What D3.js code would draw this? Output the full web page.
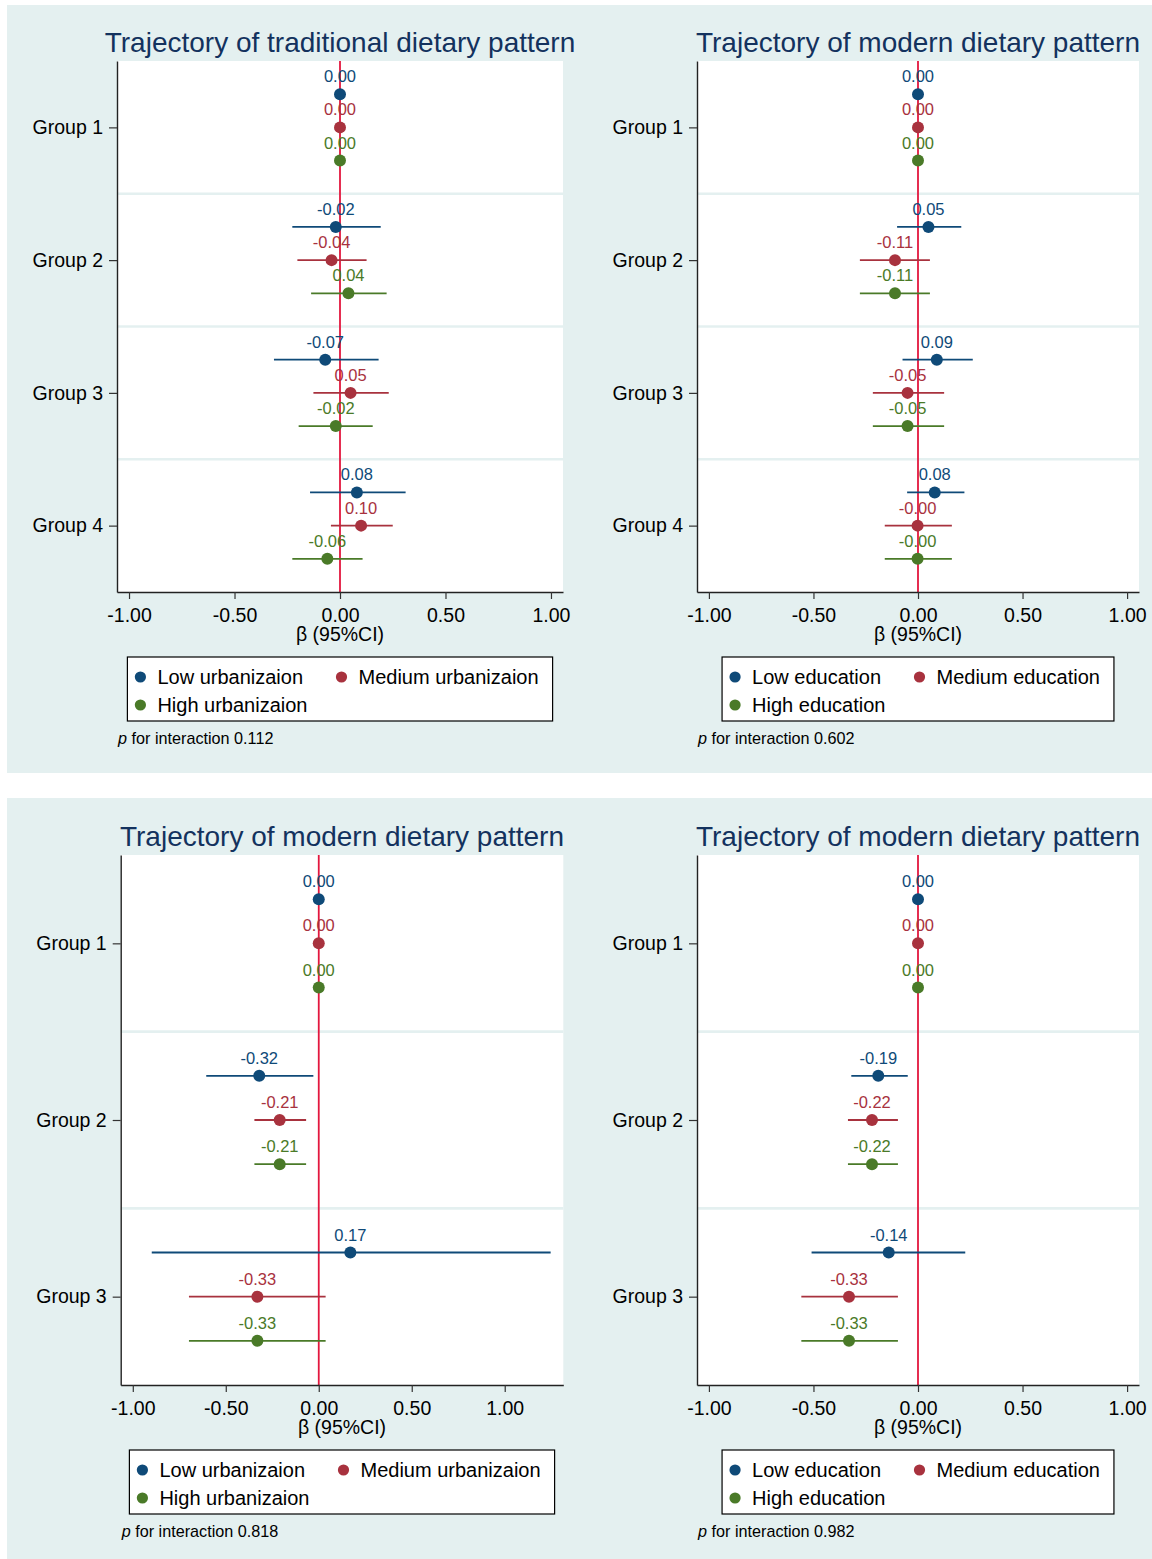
<!DOCTYPE html>
<html>
<head>
<meta charset="utf-8">
<script src="https://cdn.jsdelivr.net/npm/d3@7"></script>
<style>
  html, body { margin: 0; padding: 0; background: #ffffff; }
  svg { display: block; font-family: "Liberation Sans", Arial, Helvetica, sans-serif; }
</style>
</head>
<body>
<svg id="chart" width="1152" height="1559"></svg>
<script>
// ---------------- DATA ----------------
const groups4 = ["Group 1", "Group 2", "Group 3", "Group 4"];
const groups3 = ["Group 1", "Group 2", "Group 3"];
const seriesUrban = ["Low urbanizaion", "Medium urbanizaion", "High urbanizaion"];
const seriesEdu = ["Low education", "Medium education", "High education"];
const xTickValues = [-1, -0.5, 0, 0.5, 1];
const titles = [
  "Trajectory of traditional dietary pattern",
  "Trajectory of modern dietary pattern",
  "Trajectory of modern dietary pattern",
  "Trajectory of modern dietary pattern"
];
const pInteraction = ["0.112", "0.602", "0.818", "0.982"];

// Panel 1: traditional pattern x urbanization  [series][group]
const tradUrbEst = [[0, -0.02, -0.07, 0.08], [0, -0.04, 0.05, 0.10], [0, 0.04, -0.02, -0.06]];
const tradUrbLo  = [[null, -0.226, -0.313, -0.142], [null, -0.202, -0.126, -0.043], [null, -0.137, -0.196, -0.226]];
const tradUrbHi  = [[null, 0.193, 0.183, 0.311], [null, 0.126, 0.231, 0.250], [null, 0.221, 0.155, 0.107]];

// Panel 2: modern pattern x education (4 groups)
const modEduEst = [[0, 0.05, 0.09, 0.08], [0, -0.11, -0.05, -0.002], [0, -0.11, -0.05, -0.002]];
const modEduLo  = [[null, -0.100, -0.074, -0.052], [null, -0.278, -0.216, -0.159], [null, -0.278, -0.216, -0.159]];
const modEduHi  = [[null, 0.207, 0.262, 0.222], [null, 0.057, 0.125, 0.162], [null, 0.057, 0.125, 0.162]];

// Panel 3: modern pattern x urbanization (3 groups)
const modUrbEst = [[0, -0.32, 0.17], [0, -0.21, -0.33], [0, -0.21, -0.33]];
const modUrbLo  = [[null, -0.605, -0.898], [null, -0.346, -0.698], [null, -0.346, -0.698]];
const modUrbHi  = [[null, -0.029, 1.247], [null, -0.068, 0.037], [null, -0.068, 0.037]];

// Panel 4: modern pattern x education (3 groups)
const modEdu3Est = [[0, -0.19, -0.14], [0, -0.22, -0.33], [0, -0.22, -0.33]];
const modEdu3Lo  = [[null, -0.319, -0.509], [null, -0.335, -0.558], [null, -0.335, -0.558]];
const modEdu3Hi  = [[null, -0.049, 0.226], [null, -0.096, -0.096], [null, -0.096, -0.096]];

// ---------------- STYLE / LAYOUT ----------------
const seriesColors = ["#0f4a78", "#a8323e", "#4a7a28"];
const bgColor = "#e4f0f0";
const refColor = "#e3173e";
const titleColor = "#13325e";

const panels = [
  { x0: 117, x1: 563, y0: 61, y1: 592, domain: [-1.057, 1.057], groups: groups4, series: seriesUrban,
    est: tradUrbEst, lo: tradUrbLo, hi: tradUrbHi },
  { x0: 697, x1: 1139, y0: 61, y1: 592, domain: [-1.057, 1.057], groups: groups4, series: seriesEdu,
    est: modEduEst, lo: modEduLo, hi: modEduHi },
  { x0: 120.7, x1: 563.3, y0: 855, y1: 1385, domain: [-1.065, 1.315], groups: groups3, series: seriesUrban,
    est: modUrbEst, lo: modUrbLo, hi: modUrbHi },
  { x0: 697, x1: 1139, y0: 855, y1: 1385, domain: [-1.057, 1.057], groups: groups3, series: seriesEdu,
    est: modEdu3Est, lo: modEdu3Lo, hi: modEdu3Hi }
];

const svg = d3.select("#chart");
svg.append("rect").attr("x", 0).attr("y", 0).attr("width", 1152).attr("height", 1559).attr("fill", "#ffffff");
// outer graph regions
svg.append("rect").attr("x", 7).attr("y", 5).attr("width", 1145).attr("height", 768).attr("fill", bgColor);
svg.append("rect").attr("x", 7).attr("y", 798).attr("width", 1145).attr("height", 761).attr("fill", bgColor);

const fmt = v => (v < 0 ? "-" : "") + Math.abs(v).toFixed(2);
const offsets = [-0.25, 0, 0.25];

panels.forEach((p, pi) => {
  const g = svg.append("g");
  const x = d3.scaleLinear().domain(p.domain).range([p.x0, p.x1]);
  const nG = p.groups.length;
  const y = d3.scaleLinear().domain([0.5, nG + 0.5]).range([p.y0, p.y1]);

  // plot area
  g.append("rect").attr("x", p.x0).attr("y", p.y0).attr("width", p.x1 - p.x0).attr("height", p.y1 - p.y0)
    .attr("fill", "#ffffff");

  // separators between groups
  d3.range(1, nG).forEach(k => {
    g.append("line").attr("x1", p.x0).attr("x2", p.x1)
      .attr("y1", y(k + 0.5)).attr("y2", y(k + 0.5))
      .attr("stroke", bgColor).attr("stroke-width", 2.6);
  });

  // reference line at 0
  g.append("line").attr("x1", x(0)).attr("x2", x(0)).attr("y1", p.y0).attr("y2", p.y1)
    .attr("stroke", refColor).attr("stroke-width", 1.8);

  // series
  p.series.forEach((sName, si) => {
    const col = seriesColors[si];
    const sg = g.append("g");
    const rows = p.groups.map((gn, gi) => ({
      yy: y(gi + 1 + offsets[si]),
      est: p.est[si][gi], lo: p.lo[si][gi], hi: p.hi[si][gi]
    }));
    sg.selectAll("line.ci").data(rows.filter(r => r.lo !== null)).join("line")
      .attr("class", "ci")
      .attr("x1", r => x(r.lo)).attr("x2", r => x(r.hi))
      .attr("y1", r => r.yy).attr("y2", r => r.yy)
      .attr("stroke", col).attr("stroke-width", 1.8);
    sg.selectAll("circle").data(rows).join("circle")
      .attr("cx", r => x(r.est)).attr("cy", r => r.yy).attr("r", 6).attr("fill", col);
    sg.selectAll("text").data(rows).join("text")
      .attr("x", r => x(r.est)).attr("y", r => r.yy - 12)
      .attr("text-anchor", "middle").attr("font-size", 16.5).attr("fill", col)
      .text(r => fmt(r.est));
  });

  // y axis
  const yAxis = d3.axisLeft(y).tickValues(d3.range(1, nG + 1)).tickFormat(d => p.groups[d - 1])
    .tickSizeInner(8).tickSizeOuter(0).tickPadding(6);
  const ya = g.append("g").attr("transform", `translate(${p.x0},0)`).call(yAxis);
  ya.select(".domain").attr("stroke", "#222").attr("stroke-width", 1.4);
  ya.selectAll(".tick line").attr("stroke", "#333").attr("stroke-width", 1.2);
  ya.selectAll(".tick text").attr("font-size", 19.5).attr("fill", "#000")
    .attr("font-family", "Liberation Sans, Arial, sans-serif");

  // x axis
  const xAxis = d3.axisBottom(x).tickValues(xTickValues).tickFormat(d => fmt(d))
    .tickSizeInner(7).tickSizeOuter(0).tickPadding(6);
  const xa = g.append("g").attr("transform", `translate(0,${p.y1})`).call(xAxis);
  xa.select(".domain").attr("stroke", "#222").attr("stroke-width", 1.4);
  xa.selectAll(".tick line").attr("stroke", "#333").attr("stroke-width", 1.2);
  xa.selectAll(".tick text").attr("font-size", 19.5).attr("fill", "#000").attr("dy", null)
    .attr("y", 30).attr("font-family", "Liberation Sans, Arial, sans-serif");

  const cx = (p.x0 + p.x1) / 2;
  // title
  g.append("text").attr("x", cx).attr("y", p.y0 - 9).attr("text-anchor", "middle")
    .attr("font-size", 28).attr("fill", titleColor).text(titles[pi]);
  // axis title
  g.append("text").attr("x", cx).attr("y", p.y1 + 49).attr("text-anchor", "middle")
    .attr("font-size", 19.5).attr("fill", "#000").text("β (95%CI)");

  // legend
  const lg = g.append("g");
  const box = lg.append("rect").attr("fill", "#fff").attr("stroke", "#000").attr("stroke-width", 1.2);
  const tmp = p.series.map(s => {
    const t = lg.append("text").attr("font-size", 20).text(s);
    const w = t.node().getComputedTextLength(); t.remove(); return w;
  });
  const col1W = Math.max(tmp[0], tmp[2]);
  const padL = 13, txtOff = 17, gap = 34, padR = 14;
  const col2X = padL + txtOff + col1W + gap;
  const boxW = col2X + txtOff + tmp[1] + padR;
  const bx = cx - boxW / 2, by = p.y1 + 65;
  box.attr("x", bx).attr("y", by).attr("width", boxW).attr("height", 64);
  const pos = [[padL, 20], [col2X, 20], [padL, 48]];
  p.series.forEach((s, si) => {
    lg.append("circle").attr("cx", bx + pos[si][0]).attr("cy", by + pos[si][1]).attr("r", 5.6)
      .attr("fill", seriesColors[si]);
    lg.append("text").attr("x", bx + pos[si][0] + txtOff).attr("y", by + pos[si][1])
      .attr("dominant-baseline", "central").attr("font-size", 20).attr("fill", "#000").text(s);
  });

  // p for interaction
  const pt = g.append("text").attr("x", p.x0 + 1).attr("y", p.y1 + 152).attr("font-size", 16.2).attr("fill", "#000");
  pt.append("tspan").attr("font-style", "italic").text("p");
  pt.append("tspan").text(" for interaction " + pInteraction[pi]);
});
</script>
</body>
</html>
